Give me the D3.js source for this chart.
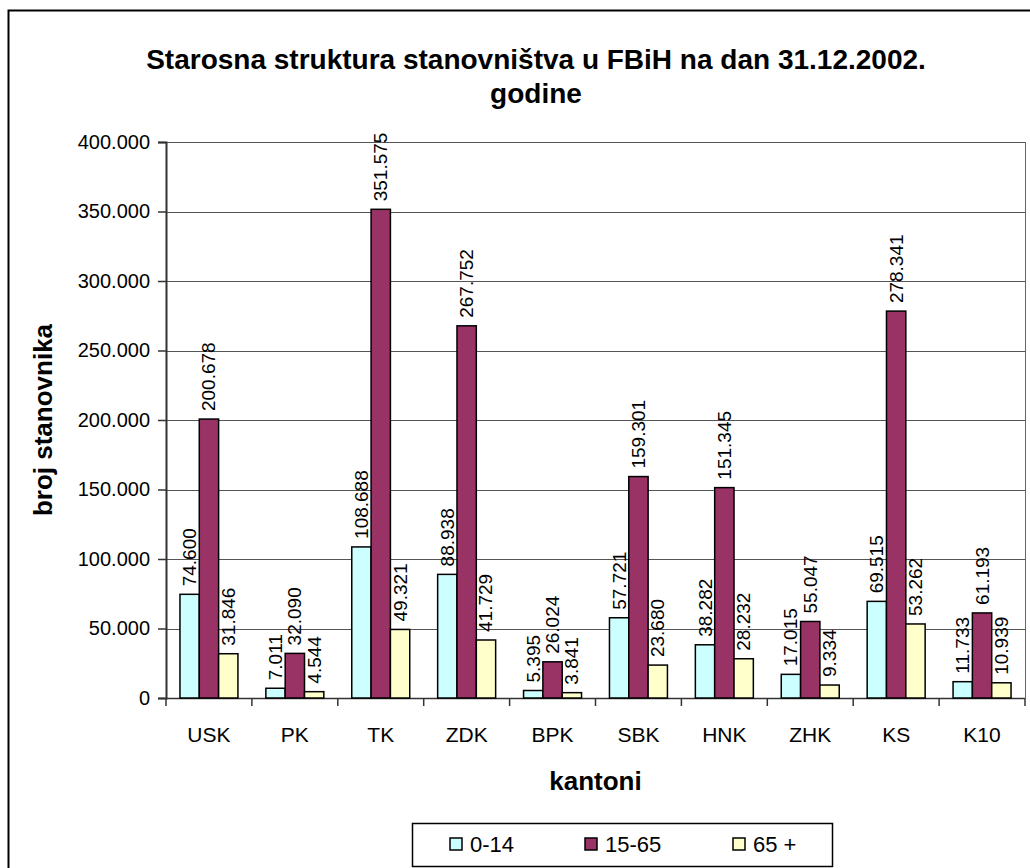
<!DOCTYPE html>
<html lang="bs">
<head>
<meta charset="utf-8">
<title>Starosna struktura stanovništva u FBiH</title>
<script src="https://cdn.jsdelivr.net/npm/d3@7"></script>
<style>
  body { margin: 0; background: #fff; }
  text { font-family: "Liberation Sans", Arial, sans-serif; fill: #000; }
  .title { font-size: 28px; font-weight: bold; text-anchor: middle; }
  .axis-title { font-size: 26px; font-weight: bold; text-anchor: middle; }
  .tick-label { font-size: 20px; }
  .cat-label { font-size: 21px; text-anchor: middle; }
  .val { font-size: 19px; }
  .leg { font-size: 22px; }
</style>
</head>
<body>
<div id="chart"></div>
<script>
var cantons = ["USK", "PK", "TK", "ZDK", "BPK", "SBK", "HNK", "ZHK", "KS", "K10"];
var series = ["0-14", "15-65", "65 +"];
var age0_14  = [74600, 7011, 108688, 88938, 5395, 57721, 38282, 17015, 69515, 11733];
var age15_65 = [200678, 32090, 351575, 267752, 26024, 159301, 151345, 55047, 278341, 61193];
var age65    = [31846, 4544, 49321, 41729, 3841, 23680, 28232, 9334, 53262, 10939];
var yTicks = [0, 50000, 100000, 150000, 200000, 250000, 300000, 350000, 400000];
var colors = ["#CCFFFF", "#993366", "#FFFFCC"];

var W = 1030, H = 868;
var plot = {left: 166, right: 1025, top: 142, bottom: 698};

var loc = d3.formatLocale({decimal: ",", thousands: ".", grouping: [3], currency: ["", ""]});
var fmt = loc.format(",d");

var svg = d3.select("#chart").append("svg")
    .attr("width", W).attr("height", H);

// outer chart border (runs off the right/bottom edge)
svg.append("rect")
   .attr("x", 8.5).attr("y", 10.5)
   .attr("width", W + 20).attr("height", H + 20)
   .attr("fill", "#fff").attr("stroke", "#000").attr("stroke-width", 2);

var x = d3.scaleBand().domain(cantons).range([plot.left, plot.right]);
var y = d3.scaleLinear().domain([0, 400000]).range([plot.bottom, plot.top]);

var barW = x.bandwidth() * 0.225;
var x1 = d3.scaleBand().domain(series)
    .range([(x.bandwidth() - 3 * barW) / 2, (x.bandwidth() + 3 * barW) / 2]);

// gridlines
svg.append("g").selectAll("line")
   .data(yTicks.slice(1))
   .enter().append("line")
   .attr("x1", plot.left).attr("x2", plot.right)
   .attr("y1", function(d) { return Math.round(y(d)) + 0.5; })
   .attr("y2", function(d) { return Math.round(y(d)) + 0.5; })
   .attr("stroke", "#555").attr("stroke-width", 1.2);

// right edge of plot area
svg.append("line")
   .attr("x1", plot.right + 0.5).attr("x2", plot.right + 0.5)
   .attr("y1", plot.top).attr("y2", plot.bottom)
   .attr("stroke", "#666");

// y axis
var yAxis = d3.axisLeft(y).tickValues(yTicks).tickSize(8).tickFormat(fmt);
var gy = svg.append("g").attr("transform", "translate(" + plot.left + ",0)").call(yAxis);
gy.select(".domain").attr("stroke", "#333").attr("stroke-width", 2);
gy.selectAll(".tick line").attr("stroke", "#333").attr("stroke-width", 1.5);
gy.selectAll(".tick text").attr("class", "tick-label").attr("x", -16);
gy.attr("font-family", null).attr("font-size", null);

// x axis with tick marks at category boundaries
var gx = svg.append("g");
gx.append("line")
  .attr("x1", plot.left).attr("x2", plot.right)
  .attr("y1", plot.bottom + 0.5).attr("y2", plot.bottom + 0.5)
  .attr("stroke", "#333").attr("stroke-width", 1.5);
gx.selectAll(".xt")
  .data(cantons.concat(["end"]))
  .enter().append("line")
  .attr("x1", function(d, i) { return plot.left + i * x.bandwidth(); })
  .attr("x2", function(d, i) { return plot.left + i * x.bandwidth(); })
  .attr("y1", plot.bottom).attr("y2", plot.bottom + 8)
  .attr("stroke", "#333").attr("stroke-width", 1.5);
gx.selectAll(".cat")
  .data(cantons)
  .enter().append("text")
  .attr("class", "cat-label")
  .attr("x", function(d) { return x(d) + x.bandwidth() / 2; })
  .attr("y", 742)
  .text(function(d) { return d; });

// bars
var table = cantons.map(function(c, i) {
  return {canton: c, values: [age0_14[i], age15_65[i], age65[i]]};
});

var groups = svg.append("g").selectAll("g")
   .data(table)
   .enter().append("g")
   .attr("transform", function(d) { return "translate(" + x(d.canton) + ",0)"; });

groups.selectAll("rect")
  .data(function(d) { return d.values.map(function(v, j) { return {s: series[j], v: v, j: j}; }); })
  .enter().append("rect")
  .attr("x", function(d) { return x1(d.s); })
  .attr("y", function(d) { return y(d.v); })
  .attr("width", x1.bandwidth())
  .attr("height", function(d) { return plot.bottom - y(d.v); })
  .attr("fill", function(d) { return colors[d.j]; })
  .attr("stroke", "#000").attr("stroke-width", 1.5);

groups.selectAll("text")
  .data(function(d) { return d.values.map(function(v, j) { return {s: series[j], v: v}; }); })
  .enter().append("text")
  .attr("class", "val")
  .attr("dominant-baseline", "central")
  .attr("transform", function(d) {
    return "translate(" + (x1(d.s) + x1.bandwidth() / 2) + "," + (y(d.v) - 8) + ") rotate(-90)";
  })
  .text(function(d) { return fmt(d.v); });

// titles
svg.append("text").attr("class", "title").attr("x", 536).attr("y", 69)
   .text("Starosna struktura stanovništva u FBiH na dan 31.12.2002.");
svg.append("text").attr("class", "title").attr("x", 536).attr("y", 103).text("godine");

svg.append("text").attr("class", "axis-title")
   .attr("transform", "translate(52,420) rotate(-90)")
   .text("broj stanovnika");

svg.append("text").attr("class", "axis-title")
   .attr("x", (plot.left + plot.right) / 2).attr("y", 790)
   .text("kantoni");

// legend
var leg = svg.append("g");
leg.append("rect")
   .attr("x", 412.5).attr("y", 823.5).attr("width", 420).attr("height", 43)
   .attr("fill", "#fff").attr("stroke", "#000").attr("stroke-width", 1.5);
var legX = [450, 585, 733];
var items = leg.selectAll(".li").data(series).enter().append("g")
   .attr("transform", function(d, i) { return "translate(" + legX[i] + ",838)"; });
items.append("rect")
   .attr("width", 12).attr("height", 12)
   .attr("fill", function(d, i) { return colors[i]; })
   .attr("stroke", "#000").attr("stroke-width", 1.5);
items.append("text").attr("class", "leg")
   .attr("x", 20).attr("y", 14)
   .text(function(d) { return d; });
</script>
</body>
</html>
